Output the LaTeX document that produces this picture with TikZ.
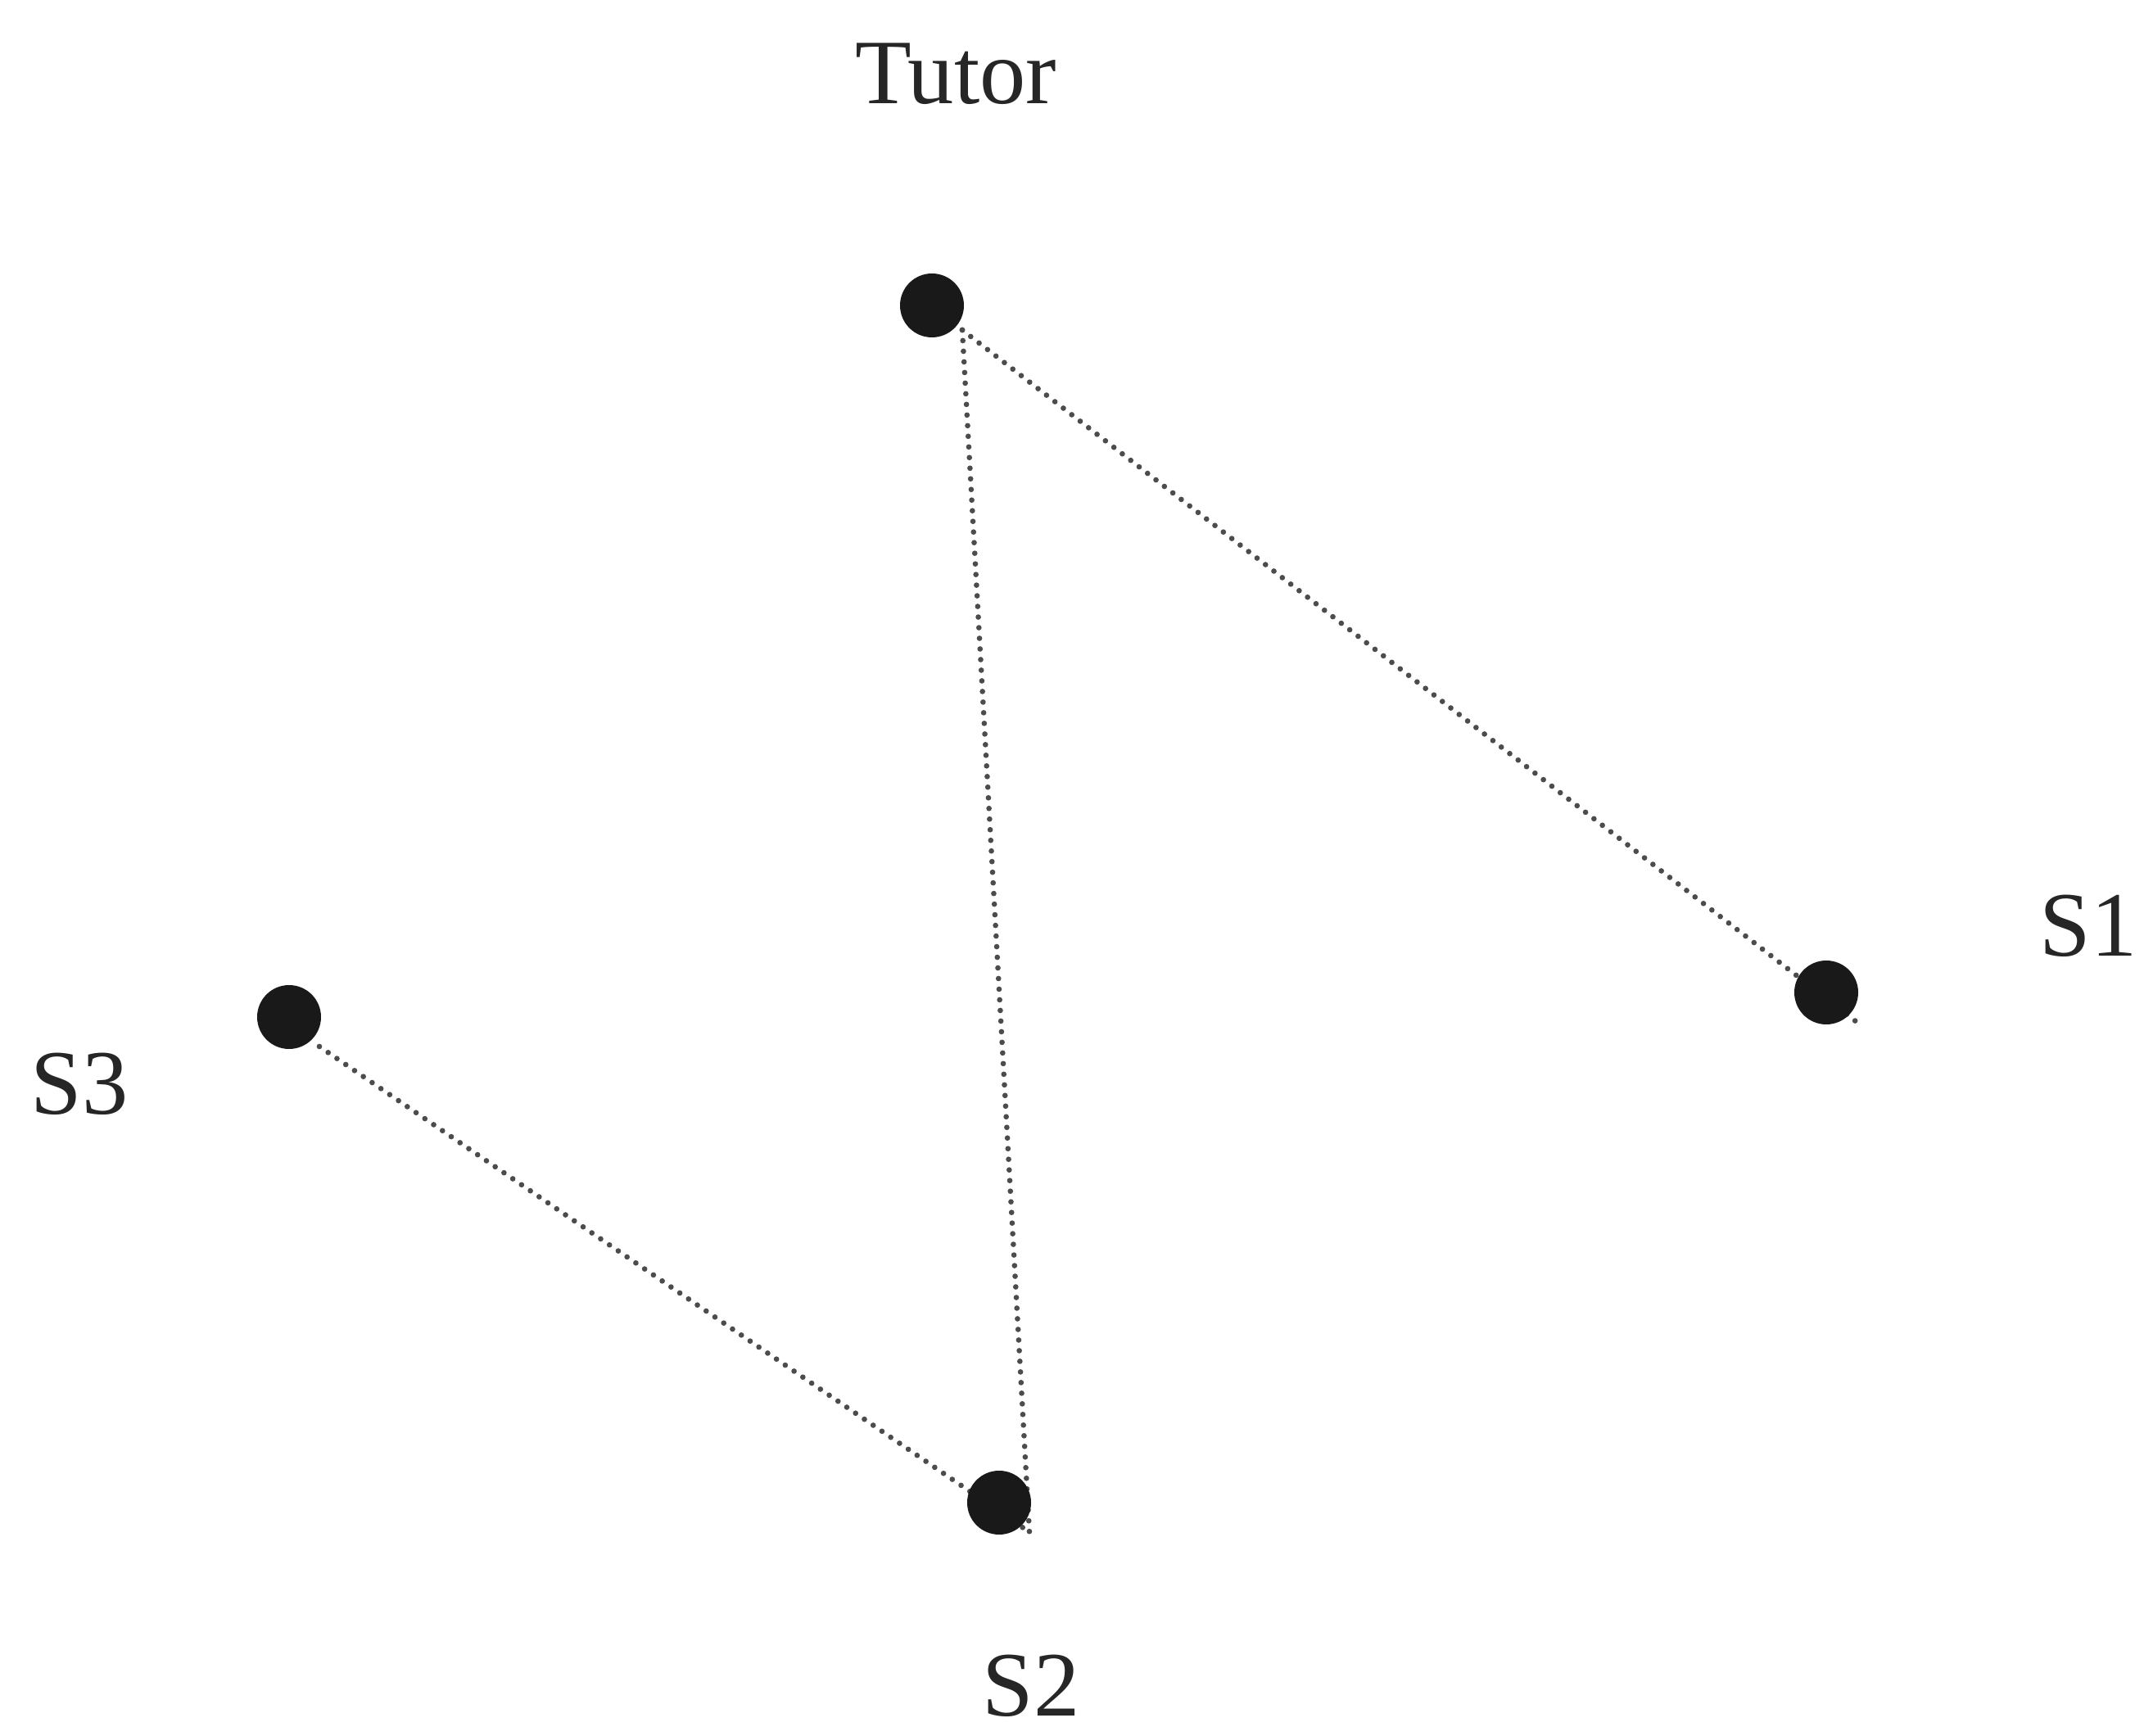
\documentclass[tikz,border=0pt]{standalone}
\usepackage{fontspec}
\setmainfont{Liberation Serif}
\usetikzlibrary{calc}

\begin{document}
\begin{tikzpicture}[
  x=1cm,y=1cm,
  line cap=round,
  line join=round,
  dot/.style={circle,fill=black!90,inner sep=0pt,minimum size=0.78cm},
  link/.style={draw=black!70,line width=1.9pt,dash pattern=on 0pt off 3.7pt},
  lbl/.style={font=\fontsize{32}{38}\selectfont,anchor=base,text=black!85,inner sep=0pt}
]
  \useasboundingbox (0,0) rectangle (26.18,-21.20);

  % Positions of the members
  \coordinate (tutor-c) at (11.38, -3.73);
  \coordinate (s1-c)    at (22.30,-12.12);
  \coordinate (s2-c)    at (12.20,-18.35);
  \coordinate (s3-c)    at ( 3.53,-12.42);

  % Line ends (a bit off the dot centres)
  \coordinate (tutor-e) at ($(tutor-c)+(0.37,-0.30)$);
  \coordinate (s1-e)    at ($(s1-c)+(0.37,-0.36)$);
  \coordinate (s2-e)    at ($(s2-c)+(0.37,-0.36)$);
  \coordinate (s3-e)    at ($(s3-c)+(0.37,-0.36)$);

  % Links (under the dots)
  \draw[link] (tutor-e) -- (s1-e);
  \draw[link] (tutor-e) -- (s2-e);
  \draw[link] (s3-e) -- (s2-e);

  % Members
  \node[dot] (tutor) at (tutor-c) {};
  \node[dot] (s1)    at (s1-c) {};
  \node[dot] (s2)    at (s2-c) {};
  \node[dot] (s3)    at (s3-c) {};

  % Names
  \node[lbl] (tutor-l) at (11.67, -1.27) {Tutor};
  \node[lbl] (s1-l)    at (25.50,-11.68) {S1};
  \node[lbl] (s2-l)    at (12.59,-20.95) {S2};
  \node[lbl] (s3-l)    at ( 0.97,-13.60) {S3};
\end{tikzpicture}
\end{document}
